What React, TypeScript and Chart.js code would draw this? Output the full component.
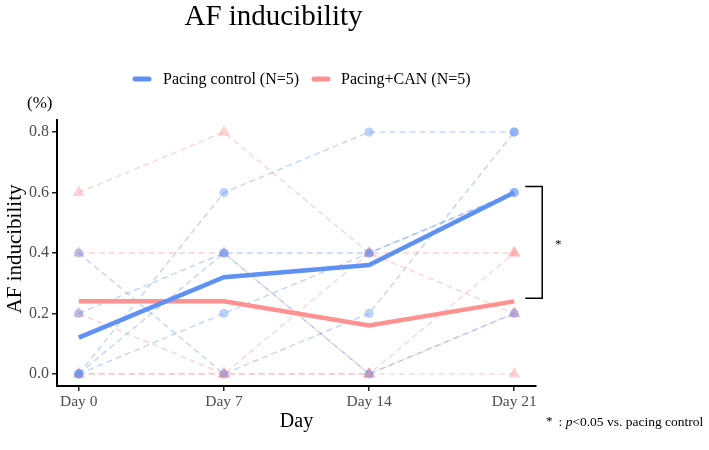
import React, { useEffect, useRef } from "react";
import { Chart, registerables } from "chart.js";

Chart.register(...registerables);

// ---------- data ----------
const days = [0, 7, 14, 21];
const dayLabels = ["Day 0", "Day 7", "Day 14", "Day 21"];
const yTicks = [0, 0.2, 0.4, 0.6, 0.8];

// Pacing control individual animals
const control1 = [0, 0.6, 0.8, 0.8];
const control2 = [0.2, 0.4, 0.4, 0.6];
const control3 = [0, 0.4, 0, 0.2];
const control4 = [0, 0.2, 0.4, 0.6];
const control5 = [0.4, 0, 0.2, 0.8];

// Pacing + CAN individual animals
const can1 = [0.6, 0.8, 0.4, 0.2];
const can2 = [0.4, 0.4, 0, 0.4];
const can3 = [0.2, 0, 0.4, 0.4];
const can4 = [0, 0, 0, 0];
const can5 = [0, 0, 0, 0.2];

// group means
const controlMean = [0.12, 0.32, 0.36, 0.6];
const canMean = [0.24, 0.24, 0.16, 0.24];

const legendLabels = ["Pacing control (N=5)", "Pacing+CAN (N=5)"];
const titleText = "AF inducibility";
const yTitle = "AF inducibility";
const xTitle = "Day";
const unitText = "(%)";
const bracketRange = [0.25, 0.62];
const bracketX = 22.35;

const BLUE = "rgb(95,145,245)";
const RED = "rgb(255,145,145)";
const BLUE_A = "rgba(95,145,245,0.42)";
const RED_A = "rgba(255,145,145,0.42)";
const FONT = "'Liberation Serif', 'DejaVu Serif', serif";

const toXY = (vals: number[]) => vals.map((v, i) => ({ x: days[i], y: v }));

const decorPlugin = {
  id: "decor",
  afterDraw(chart: any) {
    const ctx = chart.ctx;
    const xs = chart.scales.x;
    const ys = chart.scales.y;
    ctx.save();
    ctx.fillStyle = "#000";
    // title
    ctx.font = `29px ${FONT}`;
    ctx.textAlign = "center";
    ctx.textBaseline = "alphabetic";
    ctx.fillText(titleText, 273.5, 25);

    // legend
    ctx.font = `16px ${FONT}`;
    ctx.textAlign = "left";
    ctx.textBaseline = "middle";
    ctx.lineCap = "round";
    ctx.lineWidth = 5;
    ctx.strokeStyle = BLUE;
    ctx.beginPath();
    ctx.moveTo(135, 79);
    ctx.lineTo(149, 79);
    ctx.stroke();
    ctx.fillText(legendLabels[0], 163, 80);
    ctx.strokeStyle = RED;
    ctx.beginPath();
    ctx.moveTo(314, 79);
    ctx.lineTo(328, 79);
    ctx.stroke();
    ctx.fillText(legendLabels[1], 341, 80);

    // unit
    ctx.font = `17px ${FONT}`;
    ctx.fillText(unitText, 27, 104);

    // y title
    ctx.save();
    ctx.translate(15, 249);
    ctx.rotate(-Math.PI / 2);
    ctx.font = `21px ${FONT}`;
    ctx.textAlign = "center";
    ctx.textBaseline = "middle";
    ctx.fillText(yTitle, 0, 0);
    ctx.restore();

    // x title
    ctx.font = `20px ${FONT}`;
    ctx.textAlign = "center";
    ctx.textBaseline = "middle";
    ctx.fillText(xTitle, (chart.chartArea.left + chart.chartArea.right) / 2, 422);

    // bracket
    const bx = xs.getPixelForValue(bracketX);
    const yTop = ys.getPixelForValue(bracketRange[1]);
    const yBot = ys.getPixelForValue(bracketRange[0]);
    ctx.lineCap = "butt";
    ctx.lineWidth = 1.5;
    ctx.strokeStyle = "#000";
    ctx.beginPath();
    ctx.moveTo(bx - 17, yTop);
    ctx.lineTo(bx, yTop);
    ctx.lineTo(bx, yBot);
    ctx.lineTo(bx - 17, yBot);
    ctx.stroke();
    ctx.font = `13px ${FONT}`;
    ctx.textAlign = "center";
    ctx.fillText("*", bx + 16, (yTop + yBot) / 2 + 2);

    // footnote
    ctx.textAlign = "left";
    ctx.textBaseline = "middle";
    ctx.font = `13px ${FONT}`;
    let fx = 546;
    const fy = 422;
    ctx.fillText("*", fx, fy);
    fx += ctx.measureText("*").width + 6;
    ctx.font = `13.5px ${FONT}`;
    ctx.fillText(": ", fx, fy);
    fx += ctx.measureText(": ").width;
    ctx.font = `italic 13.5px ${FONT}`;
    ctx.fillText("p", fx, fy);
    fx += ctx.measureText("p").width;
    ctx.font = `13.5px ${FONT}`;
    ctx.fillText("<0.05 vs. pacing control", fx, fy);
    ctx.restore();
  },
};

export default function App() {
  const ref = useRef<HTMLCanvasElement | null>(null);
  useEffect(() => {
    if (!ref.current) return;
    const indiv = (vals: number[], color: string, style: string) => ({
      type: "line" as const,
      data: toXY(vals),
      borderColor: color,
      borderWidth: 1.3,
      borderDash: [6, 4],
      pointStyle: style,
      pointRadius: style === "triangle" ? 7 : 4.6,
      pointBackgroundColor: color,
      pointBorderWidth: 0,
      pointBorderColor: "transparent",
      tension: 0,
      fill: false,
      order: 2,
    });
    const mean = (vals: number[], color: string) => ({
      type: "line" as const,
      data: toXY(vals),
      borderColor: color,
      borderWidth: 4.5,
      pointRadius: 0,
      tension: 0,
      fill: false,
      order: 1,
    });
    const chart = new Chart(ref.current, {
      type: "line",
      data: {
        datasets: [
          mean(controlMean, BLUE),
          mean(canMean, RED),
          indiv(control1, BLUE_A, "circle"),
          indiv(control2, BLUE_A, "circle"),
          indiv(control3, BLUE_A, "circle"),
          indiv(control4, BLUE_A, "circle"),
          indiv(control5, BLUE_A, "circle"),
          indiv(can1, RED_A, "triangle"),
          indiv(can2, RED_A, "triangle"),
          indiv(can3, RED_A, "triangle"),
          indiv(can4, RED_A, "triangle"),
          indiv(can5, RED_A, "triangle"),
        ] as any,
      },
      options: {
        animation: false,
        responsive: false,
        events: [],
        layout: { padding: { top: 120, right: 173, left: 0, bottom: 0 } },
        plugins: {
          legend: { display: false },
          title: { display: false },
          tooltip: { enabled: false },
        },
        scales: {
          x: {
            type: "linear",
            min: -1.05,
            max: 22.05,
            afterBuildTicks: (s: any) => {
              s.ticks = days.map((v) => ({ value: v }));
            },
            afterFit: (s: any) => {
              s.height = 64;
            },
            ticks: {
              callback: (v: any) => dayLabels[days.indexOf(Number(v))] ?? "",
              color: "#4d4d4d",
              font: { family: FONT, size: 15.5 },
              padding: 2,
              maxRotation: 0,
              autoSkip: false,
            },
            grid: {
              drawOnChartArea: false,
              drawTicks: true,
              tickLength: 5,
              color: "#222",
              lineWidth: 1.5,
            },
            border: { display: true, color: "#000", width: 2 },
          },
          y: {
            type: "linear",
            min: -0.04,
            max: 0.84,
            afterBuildTicks: (s: any) => {
              s.ticks = yTicks.map((v) => ({ value: v }));
            },
            afterFit: (s: any) => {
              s.width = 57;
            },
            ticks: {
              callback: (v: any) => Number(v).toFixed(1),
              color: "#4d4d4d",
              font: { family: FONT, size: 16 },
              padding: 3,
            },
            grid: {
              drawOnChartArea: false,
              drawTicks: true,
              tickLength: 5,
              color: "#222",
              lineWidth: 1.5,
            },
            border: { display: true, color: "#000", width: 2 },
          },
        },
      } as any,
      plugins: [decorPlugin],
    });
    return () => chart.destroy();
  }, []);
  return (
    <div style={{ position: "fixed", left: 0, top: 0, width: 709, height: 450, background: "#fff" }}>
      <canvas ref={ref} width={709} height={450} style={{ width: 709, height: 450, display: "block" }} />
    </div>
  );
}
